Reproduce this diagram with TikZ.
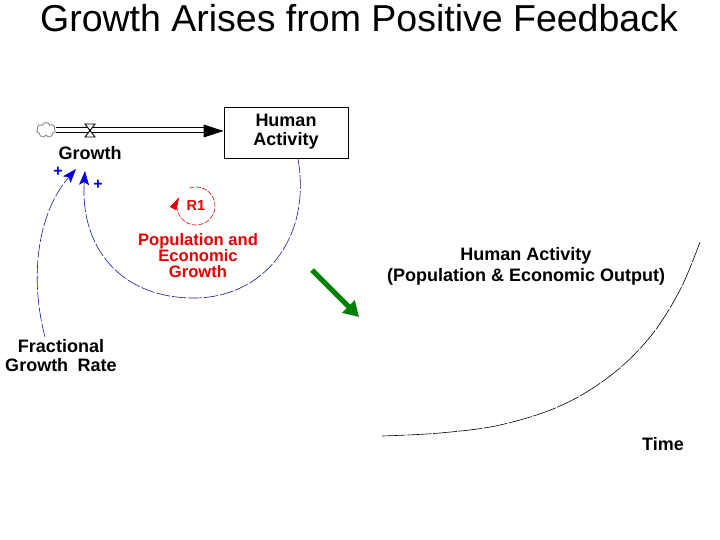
\documentclass[tikz,border=0pt]{standalone}
\usepackage{fontspec}
\setmainfont{Liberation Sans}
\usetikzlibrary{arrows.meta,shapes.symbols,calc}
\definecolor{linkblue}{RGB}{20,20,170}
\definecolor{plusblue}{RGB}{0,0,230}
\definecolor{loopred}{RGB}{230,0,0}
\definecolor{arrowgreen}{RGB}{0,128,0}
\tikzset{
  lbl/.style={font=\bfseries\fontsize{18}{19}\selectfont, align=center, inner sep=0pt},
  redlbl/.style={font=\bfseries\fontsize{16.6}{16}\selectfont, align=center, inner sep=0pt, text=loopred},
  stockbox/.style={draw, line width=0.8pt, minimum width=124pt, minimum height=51pt, inner sep=0pt},
  link/.style={linkblue, line width=0.6pt, dash pattern=on 14pt off 2pt, -{Stealth[length=14pt,width=10pt,inset=3pt,color=plusblue]}},
  plus/.style={font=\bfseries\fontsize{16}{16}\selectfont, text=plusblue, inner sep=0pt},
}
\begin{document}
\begin{tikzpicture}[x=1pt,y=-1pt]
\useasboundingbox (0,0) rectangle (720,540);
% title
\node[font=\fontsize{37.5}{40}\selectfont, inner sep=0pt] (title) at (359,18) {Growth Arises from Positive Feedback};
% stock and flow
\node[stockbox] (box) at (286,132.5) {};
\node[lbl] (boxtxt) at (286,132) {Human\\Activity};
\node[cloud, cloud puffs=7, draw=gray, fill=white, line width=0.8pt, minimum width=19pt, minimum height=15pt, inner sep=0pt, aspect=1.3] (cloud) at (46,130) {};
\coordinate (pipeend) at ($(box.west)+(-20,-1.5)$);
\draw[line width=0.8pt, double=white, double distance=3.5pt] (cloud.east) -- (cloud.east -| pipeend);
\fill ($(box.west)+(0,-1.5)$) -- ($(pipeend)+(0,-6.5)$) -- ($(pipeend)+(0,6.5)$) -- cycle;
\coordinate (valve) at (90,130);
\draw[line width=0.9pt, fill=white] ($(valve)+(-5,-6)$) -- ($(valve)+(5,-6)$) -- ($(valve)+(-5,7)$) -- ($(valve)+(5,7)$) -- cycle;
\node[lbl] (growth) at (90,153) {Growth};
% links
\coordinate (boxout) at (298,159);
\coordinate (tipA) at (85,171);
\coordinate (tipB) at (76,169);
\draw[link] (boxout) .. controls (312,240) and (262,299) .. (192,298) .. controls (118,297) and (80,245) .. (tipA);
\node[lbl] (fgr) at (61,356) {Fractional\\Growth\hspace{0.25em} Rate};
\draw[link] (45,337) .. controls (30,280) and (36,215) .. (tipB);
\node[plus] (p1) at (58,172) {+};
\node[plus] (p2) at (98,185) {+};
% loop
\coordinate (loopc) at (196,206);
\draw[loopred, line width=0.6pt, dash pattern=on 5pt off 1.5pt, -{Triangle[length=13pt,width=7pt]}] ($(loopc)+(250:19)$) arc[start angle=250, end angle=568, radius=19];
\node[font=\bfseries\fontsize{14.5}{14}\selectfont, text=loopred, inner sep=0pt] (r1) at (196,206) {R1};
\node[redlbl] (poptxt) at (198,256) {Population and\\Economic\\Growth};
% green arrow
\coordinate (gs) at (312,270);
\coordinate (ge) at (359,317);
\draw[arrowgreen, line width=5pt, -{Triangle[length=15pt,width=17pt]}] (gs) -- (ge);
% graph
\node[lbl, font=\bfseries\fontsize{18}{21}\selectfont] (hatxt) at (526,266) {Human Activity\\(Population \& Economic Output)};
\draw[line width=0.6pt, dash pattern=on 24pt off 1.5pt] plot[smooth, tension=0.6] coordinates {(382,436) (440,433) (500,425) (560,406) (610,376) (650,337) (680,290) (700,242)};
\node[lbl] (time) at (663,444) {Time};
\end{tikzpicture}
\end{document}
